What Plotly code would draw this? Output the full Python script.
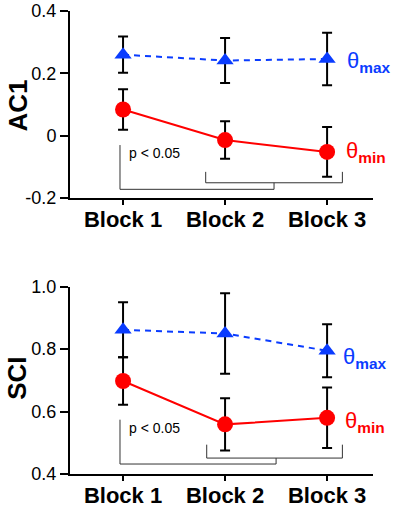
import plotly.graph_objects as go

blocks = [1, 2, 3]
block_labels = ["Block 1", "Block 2", "Block 3"]

# AC1 panel
ac1_max = [0.260, 0.241, 0.246]
ac1_max_err = [0.058, 0.072, 0.084]
ac1_min = [0.084, -0.014, -0.052]
ac1_min_err = [0.065, 0.060, 0.080]

# SCI panel
sci_max = [0.862, 0.850, 0.795]
sci_max_err = [0.088, 0.129, 0.085]
sci_min = [0.698, 0.559, 0.580]
sci_min_err = [0.076, 0.084, 0.097]

ac1_ticks = [-0.2, 0, 0.2, 0.4]
ac1_ticktext = ["-0.2", "0", "0.2", "0.4"]
sci_ticks = [0.4, 0.6, 0.8, 1.0]
sci_ticktext = ["0.4", "0.6", "0.8", "1.0"]

# significance brackets (x in block units, y in data units)
ac1_br1_x = [0.97, 0.97, 2.48, 2.48]
ac1_br1_y = [-0.030, -0.172, -0.172, -0.151]
ac1_br2_x = [1.81, 1.81, 3.15, 3.15]
ac1_br2_y = [-0.116, -0.151, -0.151, -0.116]
sci_br1_x = [0.97, 0.97, 2.50, 2.50]
sci_br1_y = [0.574, 0.432, 0.432, 0.451]
sci_br2_x = [1.82, 1.82, 3.15, 3.15]
sci_br2_y = [0.494, 0.451, 0.451, 0.494]

RED = "#ff0000"
BLUE = "#0a3cff"
FONT = "Arial, Liberation Sans, Helvetica, sans-serif"

fig = go.Figure()

def add_series(y, err, xa, ya, color, symbol, dash, size):
    fig.add_trace(go.Scatter(
        x=blocks, y=y, xaxis=xa, yaxis=ya, mode="lines+markers",
        line=dict(color=color, width=2, dash=dash),
        marker=dict(color=color, symbol=symbol, size=size),
        error_y=dict(type="data", array=err, visible=True, color="black",
                     thickness=2, width=5),
        showlegend=False, cliponaxis=False,
    ))

def add_bracket(xs, ys, xa, ya):
    fig.add_trace(go.Scatter(
        x=xs, y=ys, xaxis=xa, yaxis=ya, mode="lines",
        line=dict(color="#333333", width=1), showlegend=False,
        hoverinfo="skip", cliponaxis=False,
    ))

add_bracket(ac1_br1_x, ac1_br1_y, "x", "y")
add_bracket(ac1_br2_x, ac1_br2_y, "x", "y")
add_bracket(sci_br1_x, sci_br1_y, "x2", "y2")
add_bracket(sci_br2_x, sci_br2_y, "x2", "y2")

add_series(ac1_max, ac1_max_err, "x", "y", BLUE, "triangle-up", "6px,5px", 15)
add_series(ac1_min, ac1_min_err, "x", "y", RED, "circle", "solid", 16)
add_series(sci_max, sci_max_err, "x2", "y2", BLUE, "triangle-up", "6px,5px", 15)
add_series(sci_min, sci_min_err, "x2", "y2", RED, "circle", "solid", 16)

bold_labels = ["<b>%s</b>" % s for s in block_labels]

xcommon = dict(range=[0.48, 3.45], tickmode="array", tickvals=blocks,
               ticktext=bold_labels, showline=True, linecolor="black",
               linewidth=2, ticks="outside", ticklen=5, tickwidth=2,
               tickcolor="black", showgrid=False, zeroline=False,
               automargin=False, ticklabelstandoff=-4,
               tickfont=dict(family=FONT, size=22, color="black"))
ycommon = dict(showline=True, linecolor="black", linewidth=2, ticks="outside",
               ticklen=8, tickwidth=2, tickcolor="black", showgrid=False,
               zeroline=False, tickmode="array", automargin=False,
               tickfont=dict(family=FONT, size=18, color="black"))

fig.update_layout(
    width=397, height=512, autosize=False,
    margin=dict(l=70, r=24, t=11, b=38, pad=0, autoexpand=False),
    paper_bgcolor="white", plot_bgcolor="white",
    xaxis=dict(domain=[0, 1], anchor="y", **xcommon),
    yaxis=dict(domain=[0.596, 1], anchor="x", range=[-0.2, 0.4],
               tickvals=ac1_ticks, ticktext=ac1_ticktext, **ycommon),
    xaxis2=dict(domain=[0, 1], anchor="y2", **xcommon),
    yaxis2=dict(domain=[0, 0.4045], anchor="x2", range=[0.4, 1.0],
                tickvals=sci_ticks, ticktext=sci_ticktext, **ycommon),
)

ann = []
# axis titles
ann.append(dict(text="<b>AC1</b>", xref="paper", yref="paper", x=-0.173, y=0.795,
                textangle=-90, showarrow=False, xanchor="center", yanchor="middle",
                font=dict(family=FONT, size=26, color="black")))
ann.append(dict(text="<b>SCI</b>", xref="paper", yref="paper", x=-0.176, y=0.207,
                textangle=-90, showarrow=False, xanchor="center", yanchor="middle",
                font=dict(family=FONT, size=26, color="black")))
# series labels
ann.append(dict(text="θ<sub><b>max</b></sub>", xref="x", yref="y", x=3.18, y=0.235,
                showarrow=False, xanchor="left", yanchor="middle",
                font=dict(family=FONT, size=22, color=BLUE)))
ann.append(dict(text="θ<sub><b>min</b></sub>", xref="x", yref="y", x=3.17, y=-0.052,
                showarrow=False, xanchor="left", yanchor="middle",
                font=dict(family=FONT, size=22, color=RED)))
ann.append(dict(text="θ<sub><b>max</b></sub>", xref="x2", yref="y2", x=3.14, y=0.772,
                showarrow=False, xanchor="left", yanchor="middle",
                font=dict(family=FONT, size=22, color=BLUE)))
ann.append(dict(text="θ<sub><b>min</b></sub>", xref="x2", yref="y2", x=3.16, y=0.566,
                showarrow=False, xanchor="left", yanchor="middle",
                font=dict(family=FONT, size=22, color=RED)))
# p-values
ann.append(dict(text="p < 0.05", xref="x", yref="y", x=1.04, y=-0.056,
                showarrow=False, xanchor="left", yanchor="middle",
                font=dict(family=FONT, size=14, color="black")))
ann.append(dict(text="p < 0.05", xref="x2", yref="y2", x=1.04, y=0.548,
                showarrow=False, xanchor="left", yanchor="middle",
                font=dict(family=FONT, size=14, color="black")))
fig.update_layout(annotations=ann)

# remove the default 8px page margin so the figure sits at the window origin
fig.write_html("out.html", config={"displayModeBar": False},
               post_script="document.body.style.margin='0';")
